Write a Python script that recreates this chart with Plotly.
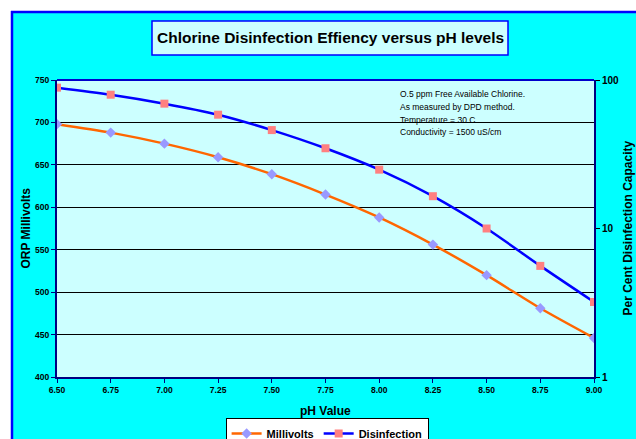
import plotly.graph_objects as go

ph = [6.50, 6.75, 7.00, 7.25, 7.50, 7.75, 8.00, 8.25, 8.50, 8.75, 9.00]
millivolts = [698, 688, 675, 659, 639, 615, 588, 556, 520, 481, 446]
disinfection = [88.8, 79.6, 69.3, 58.4, 46.0, 34.7, 24.9, 16.5, 10.0, 5.6, 3.2]

x_ticks = [6.50, 6.75, 7.00, 7.25, 7.50, 7.75, 8.00, 8.25, 8.50, 8.75, 9.00]
x_labels = ["6.50", "6.75", "7.00", "7.25", "7.50", "7.75", "8.00", "8.25", "8.50", "8.75", "9.00"]
y_ticks = [400, 450, 500, 550, 600, 650, 700, 750]
y2_ticks = [1, 10, 100]
y2_labels = ["1", "10", "100"]

title_text = "Chlorine Disinfection Effiency versus pH levels"
note_lines = [
    "O.5 ppm Free Available Chlorine.",
    "As measured by DPD method.",
    "Temperature = 30 C",
    "Conductivity = 1500 uS/cm",
]

FONT = "Liberation Sans, Arial, sans-serif"
W, H = 636, 439
L, R, T, B = 57, 42, 80, 62
PW, PH = W - L - R, H - T - B


def px_x(x):
    return (x - L) / PW


def px_y(y):
    return (H - B - y) / PH


fig = go.Figure()
fig.add_trace(go.Scatter(
    x=ph, y=millivolts, name="Millivolts", mode="lines+markers",
    line=dict(color="#FF6600", width=2.5, shape="spline", smoothing=0.8),
    marker=dict(symbol="diamond", size=8, color="#9999FF"),
    yaxis="y",
))
fig.add_trace(go.Scatter(
    x=ph, y=disinfection, name="Disinfection", mode="lines+markers",
    line=dict(color="#0000FF", width=2.5, shape="spline", smoothing=0.8),
    marker=dict(symbol="square", size=8, color="#FF8080"),
    yaxis="y2",
))

shapes = [
    # white margin strips outside the chart area (left and top)
    dict(type="rect", xref="paper", yref="paper", layer="below",
         x0=px_x(-5), x1=px_x(11), y0=px_y(H + 5), y1=px_y(-5),
         fillcolor="white", line=dict(width=0)),
    dict(type="rect", xref="paper", yref="paper", layer="below",
         x0=px_x(-5), x1=px_x(W + 5), y0=px_y(11), y1=px_y(-5),
         fillcolor="white", line=dict(width=0)),
    # blue border of chart area
    dict(type="line", xref="paper", yref="paper", layer="below",
         x0=px_x(12), x1=px_x(12), y0=px_y(H + 5), y1=px_y(11),
         line=dict(color="#0000FF", width=2.5)),
    dict(type="line", xref="paper", yref="paper", layer="below",
         x0=px_x(11), x1=px_x(W + 5), y0=px_y(12), y1=px_y(12),
         line=dict(color="#0000FF", width=2.5)),
    # plot area background
    dict(type="rect", xref="paper", yref="paper", layer="below",
         x0=0, x1=1, y0=0, y1=1, fillcolor="#CCFFFF", line=dict(width=0)),
    # title box
    dict(type="rect", xref="paper", yref="paper", layer="below",
         x0=px_x(152), x1=px_x(508), y0=px_y(55), y1=px_y(21),
         fillcolor="#CCFFFF", line=dict(color="#0000FF", width=1.5)),
    # top border of plot area
    dict(type="line", xref="paper", yref="paper", layer="above",
         x0=0, x1=1, y0=1, y1=1, line=dict(color="#0000CC", width=2)),
]

annotations = [
    dict(text=title_text, xref="paper", yref="paper", x=px_x(330), y=px_y(38),
         showarrow=False, xanchor="center", yanchor="middle",
         font=dict(family=FONT, size=15.5, color="black", weight="bold")),
    dict(text="ORP Millivolts", xref="paper", yref="paper", x=px_x(25), y=0.5,
         showarrow=False, textangle=-90, xanchor="center", yanchor="middle",
         font=dict(family=FONT, size=12, color="black", weight="bold")),
    dict(text="Per Cent Disinfection Capacity", xref="paper", yref="paper", x=px_x(627), y=0.5,
         showarrow=False, textangle=-90, xanchor="center", yanchor="middle",
         font=dict(family=FONT, size=12, color="black", weight="bold")),
    dict(text="pH Value", xref="paper", yref="paper", x=0.5, y=px_y(411),
         showarrow=False, xanchor="center", yanchor="middle",
         font=dict(family=FONT, size=12, color="black", weight="bold")),
]
note_y = [94, 107, 119.5, 132]
for line, yy in zip(note_lines, note_y):
    annotations.append(dict(
        text=line, xref="paper", yref="paper", x=px_x(398), y=px_y(yy),
        showarrow=False, xanchor="left", yanchor="middle",
        font=dict(family=FONT, size=8.5, color="black")))

tickfont = dict(family=FONT, size=8.5, color="black", weight="bold")

fig.update_layout(
    width=W, height=H,
    margin=dict(l=L, r=R, t=T, b=B, pad=0, autoexpand=False),
    paper_bgcolor="#00FFFF",
    plot_bgcolor="rgba(0,0,0,0)",
    showlegend=True,
    shapes=shapes,
    annotations=annotations,
    xaxis=dict(
        range=[6.5, 9.0], tickvals=x_ticks, ticktext=x_labels,
        showgrid=False, zeroline=False, showline=True, linecolor="#000080", linewidth=2,
        ticks="outside", ticklen=4, tickcolor="#000080", tickfont=tickfont,
    ),
    yaxis=dict(
        range=[400, 750], tickvals=y_ticks, showgrid=True, gridcolor="black", gridwidth=1,
        zeroline=False, showline=True, linecolor="#000080", linewidth=2,
        ticks="outside", ticklen=4, tickcolor="#000080", tickfont=tickfont,
    ),
    yaxis2=dict(
        type="log", range=[0, 2], tickvals=y2_ticks, ticktext=y2_labels,
        overlaying="y", side="right", showgrid=False, zeroline=False,
        showline=True, linecolor="#000080", linewidth=2,
        ticks="outside", ticklen=4, tickcolor="black",
        tickfont=dict(family=FONT, size=10, color="black", weight="bold"),
    ),
    legend=dict(
        orientation="h", x=0.503, y=px_y(418), xanchor="center", yanchor="top",
        bgcolor="white", bordercolor="black", borderwidth=1,
        font=dict(family=FONT, size=11, color="black", weight="bold"),
        itemwidth=30, tracegroupgap=0,
    ),
)

fig.write_html("out.html")
